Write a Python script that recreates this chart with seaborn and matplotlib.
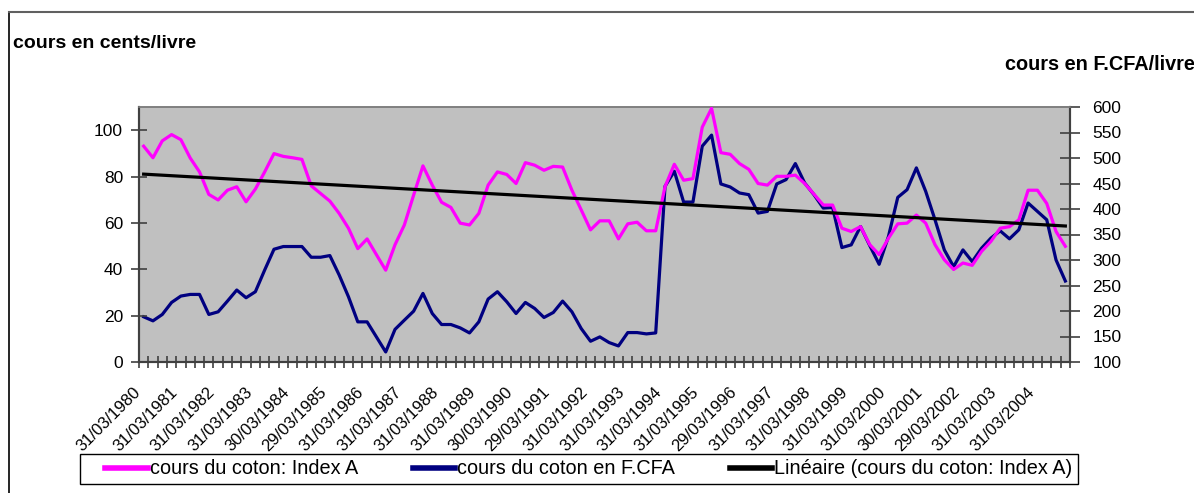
import numpy as np
import pandas as pd
import matplotlib
matplotlib.use("Agg")
import matplotlib.pyplot as plt
import matplotlib.transforms as mtransforms
import seaborn as sns
from matplotlib.lines import Line2D
from matplotlib.patches import Rectangle

# ---------------- data ----------------
tick_labels = ["31/03/1980", "31/03/1981", "31/03/1982", "31/03/1983", "30/03/1984",
               "29/03/1985", "31/03/1986", "31/03/1987", "31/03/1988", "31/03/1989",
               "30/03/1990", "29/03/1991", "31/03/1992", "31/03/1993", "31/03/1994",
               "31/03/1995", "29/03/1996", "31/03/1997", "31/03/1998", "31/03/1999",
               "31/03/2000", "30/03/2001", "29/03/2002", "31/03/2003", "31/03/2004"]

index_a = [93.1, 88.1, 95.4, 98.1, 95.9, 88.0, 82.0, 72.3, 69.9, 74.1,
           75.6, 69.1, 74.6, 82.0, 89.9, 88.7, 88.1, 87.4, 76.0, 72.7,
           69.4, 64.1, 57.7, 48.9, 53.1, 46.3, 39.6, 50.6, 59.1, 72.0,
           84.6, 76.3, 68.9, 66.7, 59.9, 59.1, 64.1, 76.3, 82.0, 80.9,
           77.0, 86.0, 84.9, 82.7, 84.4, 84.1, 74.1, 65.6, 57.0, 60.9,
           60.9, 53.1, 59.6, 60.3, 56.6, 56.6, 75.6, 85.3, 78.4, 79.1,
           101.3, 109.4, 90.3, 89.6, 85.6, 83.1, 77.0, 76.3, 80.1, 80.1,
           80.6, 77.0, 72.4, 67.7, 67.7, 57.7, 56.3, 58.4, 50.6, 46.3,
           53.4, 59.6, 59.9, 63.4, 59.9, 50.6, 44.1, 39.9, 42.7, 41.7,
           47.7, 52.0, 57.7, 58.4, 61.3, 74.1, 74.1, 68.4, 56.3, 49.9]

fcfa = [188.6, 180.7, 193.2, 216.8, 229.3, 232.5, 232.5, 193.2, 198.4, 219.4,
        241.1, 226.0, 237.8, 280.4, 321.1, 326.4, 326.4, 326.4, 305.4, 305.4,
        308.7, 270.6, 227.9, 178.7, 178.7, 149.2, 119.7, 164.0, 182.0, 199.7,
        234.5, 195.1, 173.5, 173.5, 166.9, 157.0, 178.7, 223.4, 237.8, 218.1,
        195.1, 216.8, 205.0, 187.3, 197.1, 219.4, 198.4, 165.6, 140.7, 149.2,
        138.1, 131.5, 157.7, 157.7, 155.1, 157.0, 444.5, 474.0, 413.6, 413.6,
        523.2, 544.9, 449.1, 443.2, 431.4, 428.1, 392.0, 395.3, 449.1, 457.6,
        489.1, 451.0, 428.1, 401.8, 403.1, 324.4, 329.7, 365.7, 328.0, 291.6,
        346.1, 422.8, 437.9, 480.6, 434.6, 378.9, 319.8, 287.0, 319.8, 296.9,
        323.1, 342.8, 357.2, 341.5, 359.2, 411.7, 395.3, 378.9, 300.1, 258.8]

series_names = ["cours du coton: Index A", "cours du coton en F.CFA",
                "Linéaire (cours du coton: Index A)"]

# ---------------- style ----------------
plt.rcParams['font.family'] = ['Liberation Sans', 'DejaVu Sans']

W, H = 1194, 493
fig = plt.figure(figsize=(W / 100, H / 100), dpi=100)
fig.patch.set_facecolor("white")

left, right, top, bottom = 139, 1070, 107, 362
ax = fig.add_axes([left / W, 1 - bottom / H, (right - left) / W, (bottom - top) / H])
ax2 = ax.twinx()

n = len(index_a)
x = np.arange(n)
df = pd.DataFrame({"x": x, "a": index_a, "f": fcfa})

# trend line (linear fit of Index A)
coef = np.polyfit(x, np.array(index_a), 1)
df["trend"] = np.polyval(coef, x)

sns.lineplot(data=df, x="x", y="a", ax=ax, color="#FF00FF", linewidth=2.3, zorder=3)
sns.lineplot(data=df, x="x", y="f", ax=ax2, color="#000080", linewidth=2.3, zorder=3)
sns.lineplot(data=df, x="x", y="trend", ax=ax, color="black", linewidth=2.3, zorder=4)

ax.set_zorder(ax2.get_zorder() + 1)
ax.patch.set_visible(False)
ax2.patch.set_visible(True)
ax2.patch.set_facecolor("#C0C0C0")

ax.set_xlim(-0.5, n - 0.5)
ax.set_ylim(0, 110)
ax2.set_ylim(100, 600)
ax.set_yticks(np.arange(0, 101, 20))
ax2.set_yticks(np.arange(100, 601, 50))
ax.set_xlabel("")
ax.set_ylabel("")
ax2.set_ylabel("")

ax.set_xticks(np.arange(0, n, 4))
ax.set_xticklabels(tick_labels, rotation=45, ha="right", rotation_mode="anchor", fontsize=12)
ax.set_xticks(np.arange(-0.5, n, 1), minor=True)
ax.tick_params(axis="x", which="major", length=0, pad=9)
ax.tick_params(axis="x", which="minor", length=8, direction="inout", color="#404040", width=1.2)
ax.tick_params(axis="y", which="major", length=12, direction="inout", labelsize=12.5, pad=5.5,
               color="#404040", width=1.2)
ax2.tick_params(axis="y", which="major", length=14, direction="inout", labelsize=12.5, pad=9,
                color="#404040", width=1.2)

shift = mtransforms.ScaledTranslation(-0.11, -0.10, fig.dpi_scale_trans)
for lab in ax.get_xticklabels():
    lab.set_transform(lab.get_transform() + shift)

for a in (ax, ax2):
    a.spines["top"].set_color("#808080")
    a.spines["top"].set_linewidth(1.2)
    for s in ("left", "right", "bottom"):
        a.spines[s].set_color("#404040")
        a.spines[s].set_linewidth(1.5)
    a.grid(False)

# axis titles
fig.text(13 / W, 1 - 43 / H, "cours en cents/livre", fontsize=14, fontweight="bold",
         ha="left", va="center")
fig.text(1005 / W, 1 - 64 / H, "cours en F.CFA/livre", fontsize=14.3, fontweight="bold",
         ha="left", va="center")

# outer frame (left and top border)
fig.add_artist(Line2D([9 / W, 9 / W], [0, 1 - 12 / H], color="black", linewidth=1.2,
                      transform=fig.transFigure))
fig.add_artist(Line2D([9 / W, 1], [1 - 12 / H, 1 - 12 / H], color="#606060", linewidth=1.5,
                      transform=fig.transFigure))

# legend box
fig.add_artist(Rectangle((80 / W, 1 - 484 / H), 998 / W, 30 / H, transform=fig.transFigure,
                         facecolor="white", edgecolor="black", linewidth=1.0))
handles = [Line2D([], [], color="#FF00FF", linewidth=4),
           Line2D([], [], color="#000080", linewidth=4),
           Line2D([], [], color="black", linewidth=4)]
leg = fig.legend(handles, series_names, loc="center left",
                 bbox_to_anchor=(105 / W, 1 - 469 / H),
                 ncol=3, frameon=False, fontsize=14.3,
                 handlelength=2.15, handletextpad=0.1, columnspacing=2.75,
                 borderpad=0, borderaxespad=0)
leg.set_zorder(5)

fig.savefig("out.png", dpi=100)
